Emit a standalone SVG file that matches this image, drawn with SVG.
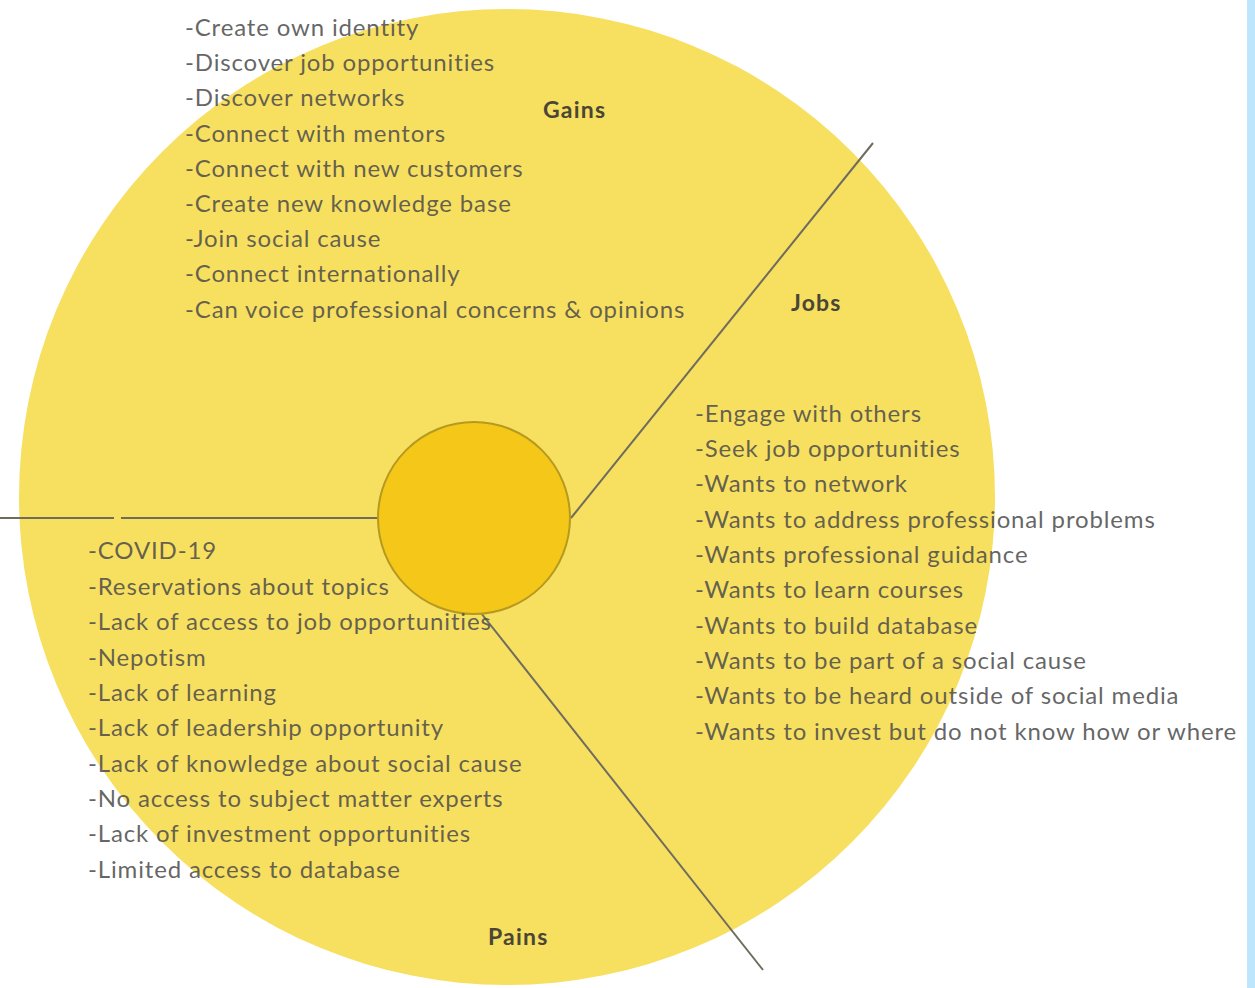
<svg xmlns="http://www.w3.org/2000/svg" width="1255" height="988" viewBox="0 0 1255 988">
  <style>
    .item { font-family: Lato, "Open Sans", "Liberation Sans", sans-serif; font-size: 24px; letter-spacing: 0.85px; fill: #4a4a4a; fill-opacity: 0.85; }
    .head { font-family: Lato, "Open Sans", "Liberation Sans", sans-serif; font-size: 23px; letter-spacing: 1.2px; font-weight: bold; fill: #4a4636; }
    .divider { stroke: #6f6c5e; stroke-width: 2; fill: none; }
  </style>
  <rect x="0" y="0" width="1255" height="988" fill="#ffffff"/>
  <rect x="1247" y="0" width="8" height="988" fill="#bde5fb"/>

  <!-- outer profile circle -->
  <g id="profile">
    <circle cx="507" cy="497" r="488" fill="#f7df60"/>
  </g>

  <!-- section dividers -->
  <g id="connectors">
    <line class="divider" x1="0" y1="518" x2="114" y2="518"/>
    <line class="divider" x1="121" y1="518" x2="378" y2="518"/>
    <line class="divider" x1="571" y1="518" x2="873" y2="143"/>
    <line class="divider" x1="481" y1="613" x2="763" y2="970"/>
  </g>

  <!-- centre customer circle -->
  <g id="customer">
    <circle cx="474" cy="518" r="96" fill="#f5c719" stroke="#b59a1f" stroke-width="2"/>
  </g>

  <g id="gains">
    <text class="head" x="543" y="118">Gains</text>
    <text class="item" x="185" y="36">-Create own identity</text>
    <text class="item" x="185" y="71">-Discover job opportunities</text>
    <text class="item" x="185" y="106">-Discover networks</text>
    <text class="item" x="185" y="142">-Connect with mentors</text>
    <text class="item" x="185" y="177">-Connect with new customers</text>
    <text class="item" x="185" y="212">-Create new knowledge base</text>
    <text class="item" x="185" y="247">-Join social cause</text>
    <text class="item" x="185" y="282">-Connect internationally</text>
    <text class="item" x="185" y="318">-Can voice professional concerns &amp; opinions</text>
  </g>

  <g id="jobs">
    <text class="head" x="791" y="311">Jobs</text>
    <text class="item" x="695" y="422">-Engage with others</text>
    <text class="item" x="695" y="457">-Seek job opportunities</text>
    <text class="item" x="695" y="492">-Wants to network</text>
    <text class="item" x="695" y="528">-Wants to address professional problems</text>
    <text class="item" x="695" y="563">-Wants professional guidance</text>
    <text class="item" x="695" y="598">-Wants to learn courses</text>
    <text class="item" x="695" y="634">-Wants to build database</text>
    <text class="item" x="695" y="669">-Wants to be part of a social cause</text>
    <text class="item" x="695" y="704">-Wants to be heard outside of social media</text>
    <text class="item" x="695" y="740">-Wants to invest but do not know how or where</text>
  </g>

  <g id="pains">
    <text class="head" x="488" y="945">Pains</text>
    <text class="item" x="88" y="559">-COVID-19</text>
    <text class="item" x="88" y="595">-Reservations about topics</text>
    <text class="item" x="88" y="630">-Lack of access to job opportunities</text>
    <text class="item" x="88" y="666">-Nepotism</text>
    <text class="item" x="88" y="701">-Lack of learning</text>
    <text class="item" x="88" y="736">-Lack of leadership opportunity</text>
    <text class="item" x="88" y="772">-Lack of knowledge about social cause</text>
    <text class="item" x="88" y="807">-No access to subject matter experts</text>
    <text class="item" x="88" y="842">-Lack of investment opportunities</text>
    <text class="item" x="88" y="878">-Limited access to database</text>
  </g>
</svg>
